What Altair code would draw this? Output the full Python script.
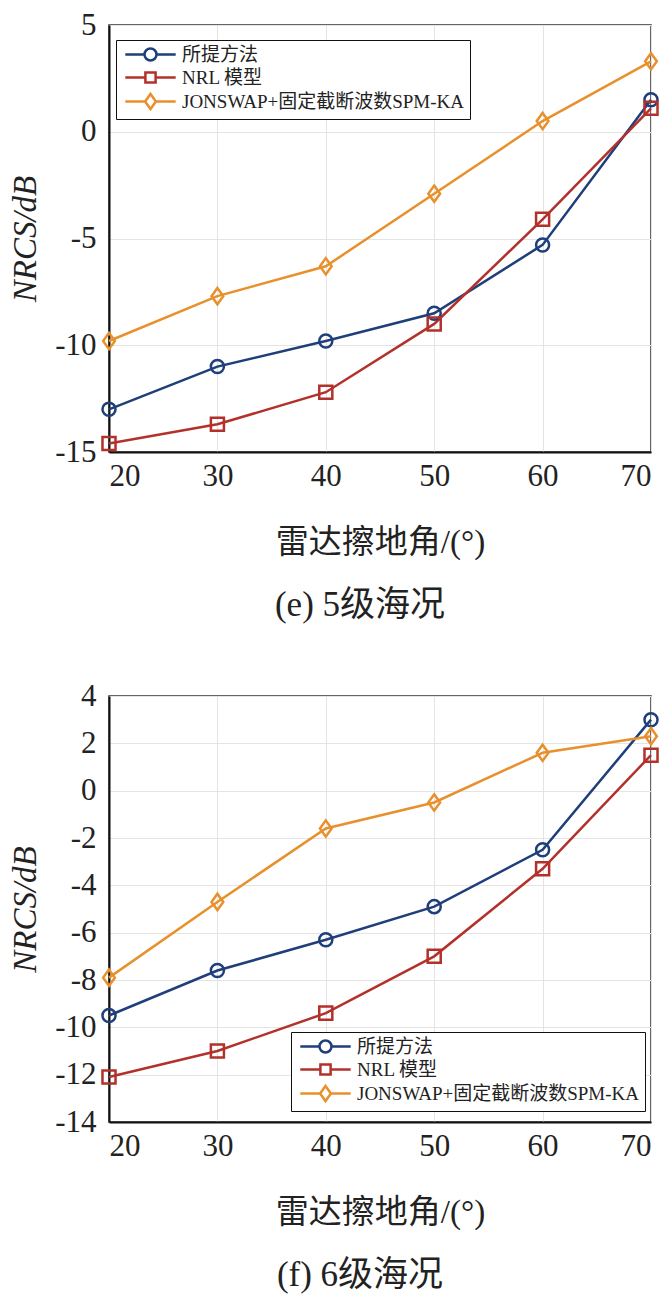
import altair as alt
import pandas as pd

# ---------------- data ----------------
angles = [20, 30, 40, 50, 60, 70]
series_names = ["所提方法", "NRL 模型", "JONSWAP+固定截断波数SPM-KA"]
colors = ["#1f3f7a", "#b3312b", "#e8902c"]

# (e) sea state 5
e_proposed = [-13.0, -11.0, -9.8, -8.5, -5.3, 1.5]
e_nrl = [-14.6, -13.7, -12.2, -9.0, -4.1, 1.1]
e_jonswap = [-9.8, -7.7, -6.3, -2.9, 0.5, 3.3]

# (f) sea state 6
f_proposed = [-9.5, -7.6, -6.3, -4.9, -2.5, 3.0]
f_nrl = [-12.1, -11.0, -9.4, -7.0, -3.3, 1.5]
f_jonswap = [-7.9, -4.7, -1.6, -0.5, 1.6, 2.3]

e_ticks = [-15, -10, -5, 0, 5]
f_ticks = [-14, -12, -10, -8, -6, -4, -2, 0, 2, 4]

x_title = "雷达擦地角/(°)"
y_title = "NRCS/dB"
cap_e = "(e) 5级海况"
cap_f = "(f) 6级海况"

FONT = "Liberation Serif, Noto Sans CJK SC"
TXT = "#222222"

marker_shapes = ["circle", "square", "M0,-1.25L0.9,0L0,1.25L-0.9,0Z"]
legend_paths = [
    "M-4.2,0H-1M1,0H4.2M-1,0A1,1 0 1,0 1,0A1,1 0 1,0 -1,0",
    "M-4.2,0H-0.85M0.85,0H4.2M-0.85,-0.85H0.85V0.85H-0.85Z",
    "M-4.2,0H-0.9M0.9,0H4.2M0,-1.25L0.9,0L0,1.25L-0.9,0Z",
]


def panel(values_list, ydom, yticks, caption, lx, ly, height):
    rows = []
    for name, vals in zip(series_names, values_list):
        for a, v in zip(angles, vals):
            rows.append({"angle": a, "nrcs": v, "series": name})
    df = pd.DataFrame(rows)

    legend = alt.Legend(
        title=None, orient="none", legendX=lx, legendY=ly,
        labelFont=FONT, labelFontSize=19, labelColor=TXT,
        symbolSize=144, symbolStrokeWidth=2.5, symbolOffset=20, labelOffset=22,
        symbolOpacity=1, symbolFillColor="transparent",
        rowPadding=1, padding=5, strokeColor="#111111", fillColor="white",
        labelLimit=400,
    )
    cscale = alt.Scale(domain=series_names, range=colors)
    x = alt.X("angle:Q", scale=alt.Scale(domain=[20, 70], nice=False),
              axis=alt.Axis(values=angles, title=x_title,
                            labelExpr="toString(datum.value)",
                            labelPadding=9, titlePadding=35))
    y = alt.Y("nrcs:Q", scale=alt.Scale(domain=ydom, nice=False),
              axis=alt.Axis(values=yticks, title=y_title,
                            labelExpr="toString(datum.value)",
                            labelPadding=13, titlePadding=12,
                            titleFontStyle="italic"))
    base = alt.Chart(df)
    # legend-carrying layer first (drawn invisibly)
    layers = [
        base.mark_point(filled=False, strokeWidth=2.5, opacity=0, size=1)
        .encode(x=x, y=y,
                color=alt.Color("series:N", sort=series_names, scale=cscale, legend=legend),
                shape=alt.Shape("series:N", sort=series_names,
                                scale=alt.Scale(domain=series_names, range=legend_paths),
                                legend=legend))
    ]
    layers.append(base.mark_line(strokeWidth=2.5).encode(
        x=x, y=y, color=alt.Color("series:N", sort=series_names, scale=cscale, legend=None)))
    for name, shp in zip(series_names, marker_shapes):
        layers.append(
            base.transform_filter(alt.datum.series == name)
            .mark_point(filled=False, size=170, strokeWidth=2.5, opacity=1, shape=shp)
            .encode(x=x, y=y,
                    color=alt.Color("series:N", sort=series_names, scale=cscale, legend=None))
        )
    return alt.layer(*layers).properties(
        width=542, height=height,
        title=alt.TitleParams(caption, orient="bottom", offset=29, font=FONT, dx=-20,
                              fontSize=35, fontWeight="normal", color=TXT),
    )


top = panel([e_proposed, e_nrl, e_jonswap], [-15, 5], e_ticks, cap_e, 7, 15, 427)
bottom = panel([f_proposed, f_nrl, f_jonswap], [-14, 4], f_ticks, cap_f, 182, 336, 426)

chart = alt.concat(top, bottom, columns=1, spacing=55).resolve_scale(
    color="independent", shape="independent"
).resolve_legend(
    color="independent", shape="independent"
).configure(
    padding={"top": 0, "left": 0, "right": 0, "bottom": 0}, background="white"
).configure_view(
    stroke="#333333", strokeWidth=1.5
).configure_axis(
    labelFont=FONT, titleFont=FONT, labelFontSize=31, titleFontSize=33,
    labelColor=TXT, titleColor=TXT, titleFontWeight="normal",
    grid=True, gridColor="#e4e4e4", gridWidth=1,
    domainColor="#111111", domainWidth=2, ticks=False,
)

chart.save("out.html", embed_options={"renderer": "svg", "actions": False})
